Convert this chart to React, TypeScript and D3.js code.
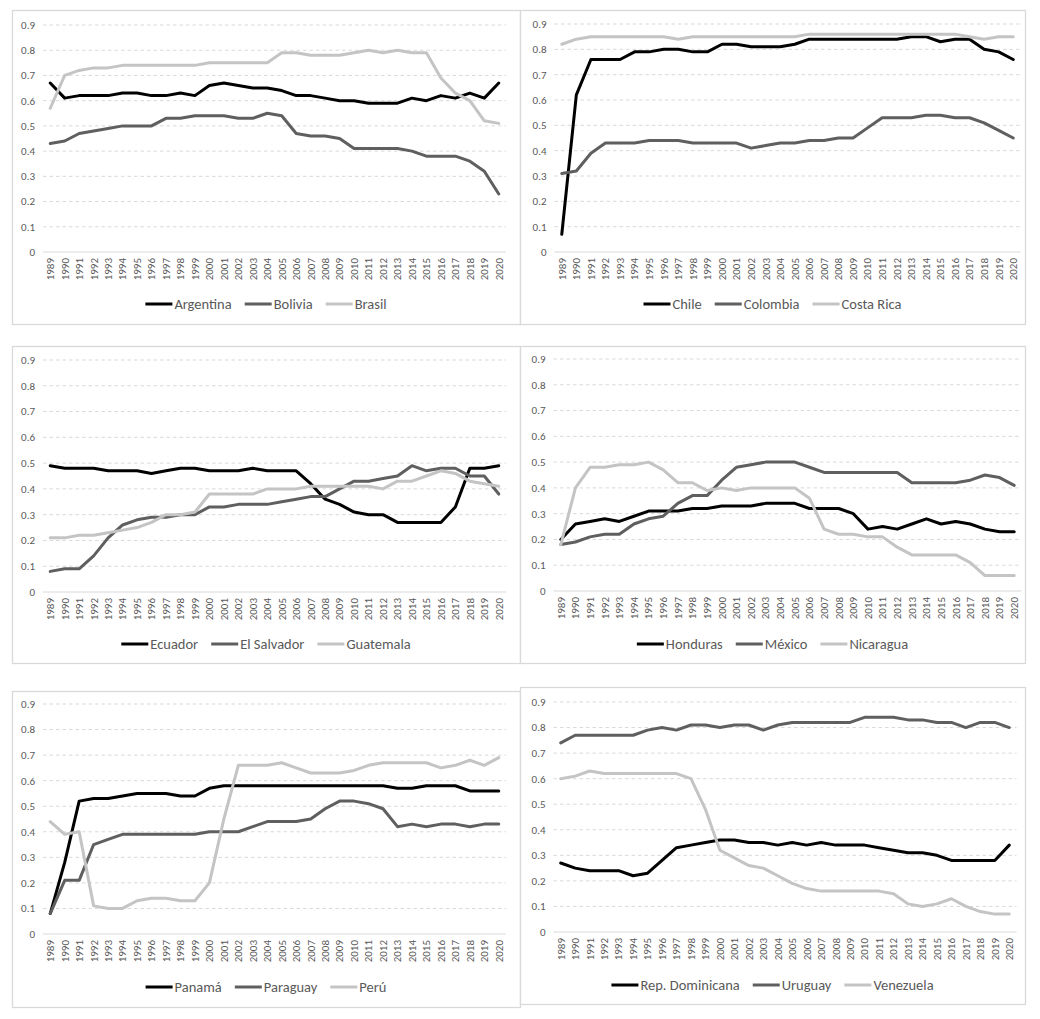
import React, { useMemo } from "react";
import * as d3 from "d3";

const YEARS = ["1989","1990","1991","1992","1993","1994","1995","1996","1997","1998","1999","2000","2001","2002","2003","2004","2005","2006","2007","2008","2009","2010","2011","2012","2013","2014","2015","2016","2017","2018","2019","2020"];
const Y_TICKS = [0, 0.1, 0.2, 0.3, 0.4, 0.5, 0.6, 0.7, 0.8, 0.9];

const ARGENTINA = [0.67,0.61,0.62,0.62,0.62,0.63,0.63,0.62,0.62,0.63,0.62,0.66,0.67,0.66,0.65,0.65,0.64,0.62,0.62,0.61,0.60,0.60,0.59,0.59,0.59,0.61,0.60,0.62,0.61,0.63,0.61,0.67];
const BOLIVIA = [0.43,0.44,0.47,0.48,0.49,0.50,0.50,0.50,0.53,0.53,0.54,0.54,0.54,0.53,0.53,0.55,0.54,0.47,0.46,0.46,0.45,0.41,0.41,0.41,0.41,0.40,0.38,0.38,0.38,0.36,0.32,0.23];
const BRASIL = [0.57,0.70,0.72,0.73,0.73,0.74,0.74,0.74,0.74,0.74,0.74,0.75,0.75,0.75,0.75,0.75,0.79,0.79,0.78,0.78,0.78,0.79,0.80,0.79,0.80,0.79,0.79,0.69,0.63,0.60,0.52,0.51];

const CHILE = [0.07,0.62,0.76,0.76,0.76,0.79,0.79,0.80,0.80,0.79,0.79,0.82,0.82,0.81,0.81,0.81,0.82,0.84,0.84,0.84,0.84,0.84,0.84,0.84,0.85,0.85,0.83,0.84,0.84,0.80,0.79,0.76];
const COLOMBIA = [0.31,0.32,0.39,0.43,0.43,0.43,0.44,0.44,0.44,0.43,0.43,0.43,0.43,0.41,0.42,0.43,0.43,0.44,0.44,0.45,0.45,0.49,0.53,0.53,0.53,0.54,0.54,0.53,0.53,0.51,0.48,0.45];
const COSTA_RICA = [0.82,0.84,0.85,0.85,0.85,0.85,0.85,0.85,0.84,0.85,0.85,0.85,0.85,0.85,0.85,0.85,0.85,0.86,0.86,0.86,0.86,0.86,0.86,0.86,0.86,0.86,0.86,0.86,0.85,0.84,0.85,0.85];

const ECUADOR = [0.49,0.48,0.48,0.48,0.47,0.47,0.47,0.46,0.47,0.48,0.48,0.47,0.47,0.47,0.48,0.47,0.47,0.47,0.42,0.36,0.34,0.31,0.30,0.30,0.27,0.27,0.27,0.27,0.33,0.48,0.48,0.49];
const EL_SALVADOR = [0.08,0.09,0.09,0.14,0.21,0.26,0.28,0.29,0.29,0.30,0.30,0.33,0.33,0.34,0.34,0.34,0.35,0.36,0.37,0.37,0.40,0.43,0.43,0.44,0.45,0.49,0.47,0.48,0.48,0.45,0.45,0.38];
const GUATEMALA = [0.21,0.21,0.22,0.22,0.23,0.24,0.25,0.27,0.30,0.30,0.31,0.38,0.38,0.38,0.38,0.40,0.40,0.40,0.41,0.41,0.41,0.41,0.41,0.40,0.43,0.43,0.45,0.47,0.46,0.43,0.42,0.41];

const HONDURAS = [0.20,0.26,0.27,0.28,0.27,0.29,0.31,0.31,0.31,0.32,0.32,0.33,0.33,0.33,0.34,0.34,0.34,0.32,0.32,0.32,0.30,0.24,0.25,0.24,0.26,0.28,0.26,0.27,0.26,0.24,0.23,0.23];
const MEXICO = [0.18,0.19,0.21,0.22,0.22,0.26,0.28,0.29,0.34,0.37,0.37,0.43,0.48,0.49,0.50,0.50,0.50,0.48,0.46,0.46,0.46,0.46,0.46,0.46,0.42,0.42,0.42,0.42,0.43,0.45,0.44,0.41];
const NICARAGUA = [0.18,0.40,0.48,0.48,0.49,0.49,0.50,0.47,0.42,0.42,0.39,0.40,0.39,0.40,0.40,0.40,0.40,0.36,0.24,0.22,0.22,0.21,0.21,0.17,0.14,0.14,0.14,0.14,0.11,0.06,0.06,0.06];

const PANAMA = [0.08,0.28,0.52,0.53,0.53,0.54,0.55,0.55,0.55,0.54,0.54,0.57,0.58,0.58,0.58,0.58,0.58,0.58,0.58,0.58,0.58,0.58,0.58,0.58,0.57,0.57,0.58,0.58,0.58,0.56,0.56,0.56];
const PARAGUAY = [0.08,0.21,0.21,0.35,0.37,0.39,0.39,0.39,0.39,0.39,0.39,0.40,0.40,0.40,0.42,0.44,0.44,0.44,0.45,0.49,0.52,0.52,0.51,0.49,0.42,0.43,0.42,0.43,0.43,0.42,0.43,0.43];
const PERU = [0.44,0.39,0.40,0.11,0.10,0.10,0.13,0.14,0.14,0.13,0.13,0.20,0.45,0.66,0.66,0.66,0.67,0.65,0.63,0.63,0.63,0.64,0.66,0.67,0.67,0.67,0.67,0.65,0.66,0.68,0.66,0.69];

const REP_DOMINICANA = [0.27,0.25,0.24,0.24,0.24,0.22,0.23,0.28,0.33,0.34,0.35,0.36,0.36,0.35,0.35,0.34,0.35,0.34,0.35,0.34,0.34,0.34,0.33,0.32,0.31,0.31,0.30,0.28,0.28,0.28,0.28,0.34];
const URUGUAY = [0.74,0.77,0.77,0.77,0.77,0.77,0.79,0.80,0.79,0.81,0.81,0.80,0.81,0.81,0.79,0.81,0.82,0.82,0.82,0.82,0.82,0.84,0.84,0.84,0.83,0.83,0.82,0.82,0.80,0.82,0.82,0.80];
const VENEZUELA = [0.60,0.61,0.63,0.62,0.62,0.62,0.62,0.62,0.62,0.60,0.48,0.32,0.29,0.26,0.25,0.22,0.19,0.17,0.16,0.16,0.16,0.16,0.16,0.15,0.11,0.10,0.11,0.13,0.10,0.08,0.07,0.07];

const SERIES_COLORS = ["#000000", "#5f5f5f", "#c4c4c4"];
const FONT = "Calibri, Carlito, Lato, 'Noto Sans', sans-serif";
const TEXT_COLOR = "#595959";
const GRID_COLOR = "#d9d9d9";

type Series = { name: string; values: number[] };
type PanelDef = {
  box: [number, number, number, number];
  plot: [number, number];
  yRange: [number, number];
  legendY: number;
  series: Series[];
};

const PANELS: PanelDef[] = [
  { box: [12, 10, 520, 324], plot: [43, 506], yRange: [252, 25], legendY: 304,
    series: [{ name: "Argentina", values: ARGENTINA }, { name: "Bolivia", values: BOLIVIA }, { name: "Brasil", values: BRASIL }] },
  { box: [520, 10, 1025, 324], plot: [554.5, 1020.5], yRange: [252, 24], legendY: 304,
    series: [{ name: "Chile", values: CHILE }, { name: "Colombia", values: COLOMBIA }, { name: "Costa Rica", values: COSTA_RICA }] },
  { box: [12, 346, 520, 663], plot: [43, 506], yRange: [592, 360], legendY: 644,
    series: [{ name: "Ecuador", values: ECUADOR }, { name: "El Salvador", values: EL_SALVADOR }, { name: "Guatemala", values: GUATEMALA }] },
  { box: [520, 346, 1025, 663], plot: [553.5, 1021.5], yRange: [591, 359], legendY: 644,
    series: [{ name: "Honduras", values: HONDURAS }, { name: "México", values: MEXICO }, { name: "Nicaragua", values: NICARAGUA }] },
  { box: [12, 691, 520, 1007], plot: [43, 506], yRange: [934, 704], legendY: 987,
    series: [{ name: "Panamá", values: PANAMA }, { name: "Paraguay", values: PARAGUAY }, { name: "Perú", values: PERU }] },
  { box: [520, 687, 1025, 1004], plot: [553.5, 1016.5], yRange: [932, 702], legendY: 985,
    series: [{ name: "Rep. Dominicana", values: REP_DOMINICANA }, { name: "Uruguay", values: URUGUAY }, { name: "Venezuela", values: VENEZUELA }] },
];

const LEGEND_FONT_SIZE = 14.5;
const TICK_FONT_SIZE = 11;

let measureCtx: CanvasRenderingContext2D | null = null;
function textWidth(t: string, size: number) {
  if (!measureCtx) {
    const c = document.createElement("canvas");
    measureCtx = c.getContext("2d");
  }
  if (!measureCtx) return t.length * size * 0.5;
  measureCtx.font = `${size}px ${FONT}`;
  return measureCtx.measureText(t).width;
}

function Panel({ def }: { def: PanelDef }) {
  const [bx0, by0, bx1, by1] = def.box;
  const x = d3.scalePoint<string>().domain(YEARS).range(def.plot).padding(0.5);
  const y = d3.scaleLinear().domain([0, 0.9]).range(def.yRange);
  const line = d3
    .line<number>()
    .x((_, i) => x(YEARS[i]) as number)
    .y((v) => y(v));

  const swatch = 27;
  const gapAfterSwatch = 2;
  const gapBetween = 13;
  const widths = def.series.map((s) => swatch + gapAfterSwatch + textWidth(s.name, LEGEND_FONT_SIZE));
  const total = d3.sum(widths) + gapBetween * (def.series.length - 1);
  const cx = (bx0 + bx1) / 2;
  let lx = cx - total / 2;
  const legendItems = def.series.map((s, i) => {
    const start = lx;
    lx += widths[i] + gapBetween;
    return { s, start, color: SERIES_COLORS[i] };
  });

  return (
    <g>
      <rect x={bx0 + 0.5} y={by0 + 0.5} width={bx1 - bx0} height={by1 - by0} fill="#fff" stroke={GRID_COLOR} strokeWidth={1.3} />
      {Y_TICKS.map((t) => (
        <g key={t}>
          {t > 0 && (
            <line x1={def.plot[0]} x2={def.plot[1]} y1={y(t)} y2={y(t)} stroke={GRID_COLOR} strokeWidth={1} strokeDasharray="3.5,3" />
          )}
          <text x={def.plot[0] - 8} y={y(t)} dy="0.35em" textAnchor="end" fontSize={TICK_FONT_SIZE} fill={TEXT_COLOR} fontFamily={FONT}>
            {t === 0 ? "0" : d3.format(".1f")(t)}
          </text>
        </g>
      ))}
      <line x1={def.plot[0]} x2={def.plot[1]} y1={y(0)} y2={y(0)} stroke={GRID_COLOR} strokeWidth={1.2} />
      {YEARS.map((yr) => (
        <text
          key={yr}
          transform={`translate(${x(yr)},${y(0) + 6}) rotate(-90)`}
          textAnchor="end"
          dy="0.35em"
          fontSize={TICK_FONT_SIZE}
          fill={TEXT_COLOR}
          fontFamily={FONT}
        >
          {yr}
        </text>
      ))}
      {def.series.map((s, i) => (
        <path key={s.name} d={line(s.values) || ""} fill="none" stroke={SERIES_COLORS[i]} strokeWidth={3} strokeLinejoin="round" strokeLinecap="round" />
      ))}
      {legendItems.map(({ s, start, color }) => (
        <g key={s.name}>
          <line x1={start} x2={start + swatch} y1={def.legendY} y2={def.legendY} stroke={color} strokeWidth={3} />
          <text x={start + swatch + gapAfterSwatch} y={def.legendY} dy="0.35em" fontSize={LEGEND_FONT_SIZE} fill={TEXT_COLOR} fontFamily={FONT}>
            {s.name}
          </text>
        </g>
      ))}
    </g>
  );
}

export default function App() {
  const panels = useMemo(() => PANELS, []);
  return (
    <svg width={1040} height={1019} style={{ position: "absolute", left: 0, top: 0, background: "#fff" }}>
      <rect x={0} y={0} width={1040} height={1019} fill="#fff" />
      {panels.map((p, i) => (
        <Panel key={i} def={p} />
      ))}
    </svg>
  );
}
